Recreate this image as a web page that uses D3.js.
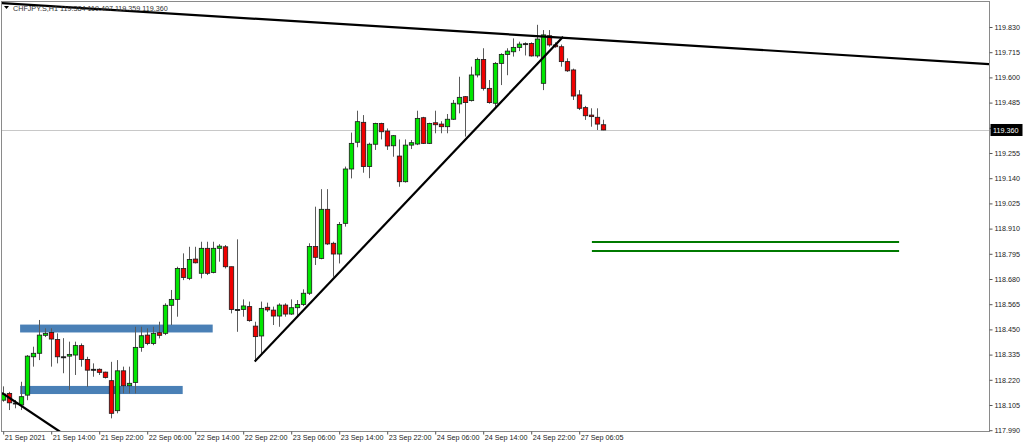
<!DOCTYPE html>
<html><head><meta charset="utf-8">
<script src="https://cdn.jsdelivr.net/npm/d3@7"></script>
<style>
html,body{margin:0;padding:0;background:#fff;}
svg{display:block;font-family:"Liberation Sans",Arial,sans-serif;}
</style></head>
<body>
<svg id="c" width="1024" height="447"></svg>
<script>
// ---- data ----
const symbol = "CHFJPY.S,H1";
const open  = [118.127,118.158,118.114,118.105,118.150,118.325,118.341,118.423,118.436,118.404,118.325,118.328,118.333,118.376,118.313,118.268,118.268,118.255,118.216,118.079,118.261,118.193,118.208,118.368,118.424,118.386,118.435,118.432,118.560,118.587,118.728,118.683,118.771,118.706,118.820,118.710,118.820,118.827,118.736,118.541,118.541,118.554,118.465,118.420,118.551,118.538,118.511,118.561,118.520,118.549,118.564,118.615,118.828,118.774,118.998,118.843,118.794,118.934,119.182,119.304,119.395,119.193,119.295,119.390,119.355,119.288,119.241,119.124,119.291,119.296,119.416,119.299,119.393,119.387,119.375,119.409,119.479,119.512,119.494,119.611,119.682,119.550,119.482,119.664,119.705,119.717,119.737,119.752,119.755,119.698,119.573,119.790,119.748,119.740,119.672,119.634,119.520,119.462,119.428,119.418,119.384];
const high  = [118.190,118.165,118.128,118.211,118.333,118.371,118.493,118.455,118.455,118.432,118.410,118.394,118.394,118.386,118.325,118.295,118.272,118.257,118.302,118.310,118.280,118.280,118.462,118.462,118.455,118.462,118.485,118.569,118.630,118.736,118.797,118.827,118.827,118.850,118.850,118.850,118.839,118.835,118.736,118.861,118.587,118.577,118.485,118.577,118.572,118.554,118.569,118.569,118.587,118.584,118.633,118.843,119.010,119.090,119.090,118.850,118.940,119.193,119.348,119.448,119.428,119.302,119.393,119.393,119.367,119.337,119.317,119.317,119.314,119.448,119.420,119.393,119.448,119.400,119.433,119.497,119.603,119.515,119.649,119.690,119.733,119.588,119.670,119.710,119.733,119.778,119.763,119.760,119.760,119.840,119.816,119.816,119.760,119.750,119.687,119.640,119.542,119.470,119.459,119.459,119.407];
const low   = [118.120,118.082,118.090,118.082,118.127,118.280,118.310,118.415,118.280,118.295,118.250,118.173,118.242,118.280,118.188,118.234,118.242,118.226,118.044,118.067,118.158,118.158,118.158,118.348,118.378,118.378,118.409,118.424,118.470,118.508,118.675,118.675,118.751,118.683,118.698,118.706,118.759,118.728,118.523,118.439,118.508,118.485,118.303,118.338,118.530,118.470,118.462,118.508,118.516,118.508,118.557,118.607,118.744,118.770,118.835,118.690,118.751,118.919,119.139,119.281,119.165,119.140,119.269,119.317,119.269,119.238,119.101,119.120,119.273,119.291,119.296,119.296,119.345,119.345,119.345,119.406,119.436,119.330,119.490,119.600,119.540,119.480,119.466,119.565,119.610,119.695,119.720,119.700,119.695,119.690,119.542,119.740,119.735,119.649,119.625,119.497,119.451,119.406,119.375,119.360,119.359];
const close = [118.155,118.115,118.114,118.143,118.328,118.341,118.424,118.432,118.406,118.325,118.324,118.336,118.376,118.313,118.264,118.268,118.254,118.231,118.067,118.261,118.193,118.204,118.368,118.421,118.386,118.432,118.423,118.560,118.587,118.728,118.687,118.769,118.754,118.820,118.706,118.820,118.830,118.736,118.541,118.540,118.557,118.490,118.417,118.546,118.539,118.511,118.561,118.520,118.549,118.564,118.615,118.828,118.779,118.998,118.840,118.794,118.929,119.182,119.299,119.398,119.193,119.295,119.390,119.352,119.287,119.334,119.124,119.291,119.302,119.413,119.299,119.390,119.384,119.375,119.409,119.482,119.509,119.485,119.611,119.682,119.550,119.485,119.664,119.705,119.720,119.737,119.752,119.754,119.698,119.775,119.794,119.748,119.740,119.672,119.630,119.515,119.459,119.425,119.421,119.387,119.360];
const priceTicks = [119.830,119.715,119.600,119.485,119.370,119.255,119.140,119.025,118.910,118.795,118.680,118.565,118.450,118.335,118.220,118.105,117.990];
const timeTickIdx = [0,8,16,24,32,40,48,56,64,72,80,88,96];
const timeLabels = ["21 Sep 2021","21 Sep 14:00","21 Sep 22:00","22 Sep 06:00","22 Sep 14:00","22 Sep 22:00","23 Sep 06:00","23 Sep 14:00","23 Sep 22:00","24 Sep 06:00","24 Sep 14:00","24 Sep 22:00","27 Sep 06:05"];
const currentPrice = 119.360;
// drawn objects: [barIndex, price]
const trendTop    = [[-0.45,119.9395],[164.4,119.661]];
const trendRise   = [[42,118.303],[93.4,119.786]];
const trendLow    = [[-0.12,118.160],[9.55,117.983]];
const zoneUpper   = [[2.9,118.472],[35,118.436]];
const zoneLower   = [[2.9,118.192],[30,118.155]];
const targetLines = [[98.2,149.4,118.849],[98.2,149.4,118.808]];

// ---- layout ----
const svg = d3.select("#c");
const L = 2, R = 989, T = 2, B = 431.5;
const x = d3.scaleLinear().domain([0,100]).range([2.7,602.7]);
const y = d3.scaleLinear().domain([117.990,119.830]).range([430.2,27]);

svg.append("defs").append("clipPath").attr("id","pc")
  .append("rect").attr("x",L).attr("y",T).attr("width",R-L).attr("height",B-T);

const plot = svg.append("g").attr("clip-path","url(#pc)");

// current price line
plot.append("line").attr("x1",L).attr("x2",R).attr("y1",Math.round(y(currentPrice))+0.5).attr("y2",Math.round(y(currentPrice))+0.5)
  .attr("stroke","#c8c8c8").attr("stroke-width",1);

// zones
[zoneUpper, zoneLower].forEach(z=>{
  plot.append("rect").attr("x",x(z[0][0])).attr("y",y(z[0][1]))
    .attr("width",x(z[1][0])-x(z[0][0])).attr("height",y(z[1][1])-y(z[0][1]))
    .attr("fill","#4a80b6");
});

// candles
const bars = d3.range(open.length).map(i=>({i,o:open[i],h:high[i],l:low[i],c:close[i]}));
const g = plot.append("g");
g.selectAll("line.w").data(bars).join("line").attr("class","w")
  .attr("x1",d=>Math.round(x(d.i))+0.5).attr("x2",d=>Math.round(x(d.i))+0.5)
  .attr("y1",d=>y(d.h)).attr("y2",d=>y(d.l))
  .attr("stroke","#5a5a5a").attr("stroke-width",1);
const bw = 4.4;
g.selectAll("rect.b").data(bars).join("rect").attr("class","b")
  .attr("x",d=>Math.round(x(d.i))+0.5-bw/2)
  .attr("y",d=>Math.min(y(d.o),y(d.c)))
  .attr("width",bw)
  .attr("height",d=>Math.max(1,Math.abs(y(d.o)-y(d.c))))
  .attr("fill",d=>Math.abs(d.c-d.o)<0.003?"#000":(d.c>d.o?"#00e600":"#f00000"))
  .attr("stroke","#1a1a1a").attr("stroke-width",0.8);

// target lines
targetLines.forEach(t=>{
  plot.append("line").attr("x1",x(t[0])).attr("x2",x(t[1])).attr("y1",y(t[2])).attr("y2",y(t[2]))
    .attr("stroke","#007a00").attr("stroke-width",2);
});

// trend lines
const ln = d3.line().x(d=>x(d[0])).y(d=>y(d[1]));
[trendTop, trendRise, trendLow].forEach(t=>{
  plot.append("path").attr("d",ln(t)).attr("fill","none").attr("stroke","#000").attr("stroke-width",2.2);
});

// frame
svg.append("rect").attr("x",L-0.5).attr("y",T-0.5).attr("width",R-L+1).attr("height",B-T+0.5)
  .attr("fill","none").attr("stroke","#8a8a8a").attr("stroke-width",1);

// price axis
const ya = svg.append("g").attr("transform",`translate(${R+0.5},0)`)
  .call(d3.axisRight(y).tickValues(priceTicks).tickSize(3).tickPadding(2).tickFormat(d3.format(".3f")));
ya.select(".domain").remove();
ya.selectAll("line").attr("stroke","#555");
ya.selectAll("text").attr("font-size","7.2px").attr("fill","#222").attr("font-family","Liberation Sans, Arial, sans-serif");

// time axis
const xa = svg.append("g").attr("transform",`translate(0,${B})`)
  .call(d3.axisBottom(x).tickValues(timeTickIdx).tickSize(3).tickPadding(2).tickFormat((d,i)=>timeLabels[i]));
xa.select(".domain").remove();
xa.selectAll("line").attr("stroke","#555").attr("transform","translate(0.5,0)");
xa.selectAll("text").attr("text-anchor","start").attr("dx","1.5px").attr("dy","0.55em")
  .attr("font-size","7.2px").attr("fill","#222").attr("font-family","Liberation Sans, Arial, sans-serif");

// current price label
const cy = y(currentPrice);
svg.append("rect").attr("x",R+1.5).attr("y",cy-6).attr("width",32).attr("height",12).attr("fill","#000");
svg.append("text").attr("x",R+4).attr("y",cy+2.6).attr("fill","#fff").attr("font-size","7.2px")
  .text(d3.format(".3f")(currentPrice));

// header
const last = bars[bars.length-1];
svg.append("path").attr("d","M4,6 L9,6 L6.5,9 Z").attr("fill","#000");
svg.append("text").attr("x",13).attr("y",10.5).attr("font-size","7.2px").attr("fill","#333")
  .text(`${symbol}  ${d3.format(".3f")(last.o)} ${d3.format(".3f")(last.h)} ${d3.format(".3f")(last.l)} ${d3.format(".3f")(last.c)}`);
</script>
</body></html>
